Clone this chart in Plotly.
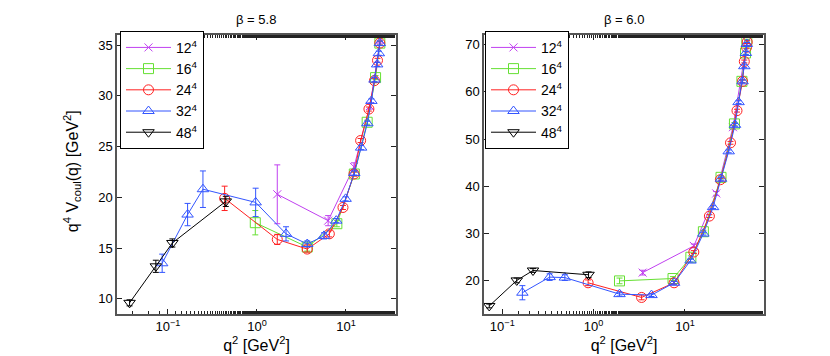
import plotly.graph_objects as go

# beta = 5.8 (left panel)
l12_x = [1.69, 6.3, 12.3, 18.6, 24.3]
l12_y = [20.3, 17.7, 23.0, 29.0, 35.5]
l12_e = [2.9, 0.5, 0.4, 0.3, 0.3]

l16_x = [0.957, 3.67, 7.9, 12.4, 17.3, 21.5, 24.0]
l16_y = [17.5, 15.1, 17.4, 22.3, 27.4, 31.8, 35.2]
l16_e = [1.2, 0.4, 0.3, 0.2, 0.2, 0.2, 0.2]

l24_x = [0.433, 1.69, 3.67, 6.5, 9.25, 12.3, 14.6, 18.1, 20.9, 22.6, 24.0]
l24_y = [19.9, 15.85, 14.9, 16.4, 19.0, 22.3, 25.6, 28.7, 31.5, 33.5, 35.2]
l24_e = [1.2, 0.5, 0.3, 0.3, 0.2, 0.2, 0.2, 0.2, 0.2, 0.2, 0.2]

l32_x = [0.086, 0.166, 0.247, 0.966, 2.12, 3.67, 5.66, 7.77, 9.9, 12.4, 14.8,
         17.4, 19.3, 20.9, 22.4, 23.4, 24.0]
l32_y = [13.5, 18.3, 20.8, 19.5, 16.4, 15.4, 16.2, 17.7, 19.85, 22.4, 24.9,
         27.3, 29.5, 31.6, 33.1, 34.2, 35.2]
l32_e = [0.9, 1.1, 1.8, 1.4, 0.7, 0.3, 0.3, 0.2, 0.2, 0.2, 0.2,
         0.2, 0.2, 0.2, 0.2, 0.2, 0.2]

l48_x = [0.037, 0.073, 0.112, 0.446]
l48_y = [9.6, 13.2, 15.5, 19.6]
l48_e = [0.3, 0.6, 0.4, 0.5]

# beta = 6.0 (right panel)
r12_x = [3.44, 12.5, 22.0, 33.5, 47.8]
r12_y = [21.75, 27.4, 38.5, 52.5, 70.6]
r12_e = [0.5, 0.4, 0.4, 0.4, 0.4]

r16_x = [1.92, 7.4, 11.6, 15.9, 24.8, 34.8, 42.0, 46.0, 47.5]
r16_y = [20.0, 20.5, 25.0, 30.4, 41.9, 53.2, 62.2, 68.2, 70.8]
r16_e = [0.6, 0.4, 0.3, 0.3, 0.3, 0.3, 0.3, 0.3, 0.3]

r24_x = [0.87, 3.35, 7.6, 12.5, 18.5, 24.4, 31.5, 37.1, 42.7, 44.6, 47.2, 48.0]
r24_y = [19.6, 16.5, 19.6, 26.1, 33.7, 41.4, 49.2, 56.0, 62.2, 66.4, 69.4, 70.5]
r24_e = [0.6, 0.5, 0.3, 0.3, 0.3, 0.3, 0.3, 0.3, 0.3, 0.3, 0.3, 0.3]

r32_x = [0.166, 0.33, 0.484, 1.92, 4.3, 7.6, 11.5, 15.9, 20.3, 24.8, 30.1,
         35.3, 38.6, 42.7, 44.6, 46.4, 47.5]
r32_y = [17.5, 20.8, 20.7, 17.2, 17.0, 19.6, 24.3, 30.0, 35.6, 41.6, 47.4,
         53.0, 57.8, 62.2, 65.4, 68.2, 70.1]
r32_e = [1.5, 0.7, 0.6, 0.4, 0.3, 0.3, 0.3, 0.3, 0.3, 0.3, 0.3,
         0.3, 0.3, 0.3, 0.3, 0.3, 0.3]

r48_x = [0.072, 0.144, 0.217, 0.88]
r48_y = [14.7, 20.1, 22.2, 21.3]
r48_e = [0.4, 0.5, 0.4, 0.6]

labels = ["12<sup>4</sup>", "16<sup>4</sup>", "24<sup>4</sup>", "32<sup>4</sup>", "48<sup>4</sup>"]
colors = ["#C040F0", "#66E033", "#FF2020", "#3355FF", "#000000"]
symbols = ["x-thin-open", "square-open", "circle-open", "triangle-up-open", "triangle-down-open"]

left = [(l12_x, l12_y, l12_e), (l16_x, l16_y, l16_e), (l24_x, l24_y, l24_e),
        (l32_x, l32_y, l32_e), (l48_x, l48_y, l48_e)]
right = [(r12_x, r12_y, r12_e), (r16_x, r16_y, r16_e), (r24_x, r24_y, r24_e),
         (r32_x, r32_y, r32_e), (r48_x, r48_y, r48_e)]

FONT = "Liberation Sans, Arial, sans-serif"
NARROW = "Liberation Sans Narrow, Liberation Sans, Arial, sans-serif"

fig = go.Figure()
for data, xa, ya, leg in [(left, "x", "y", "legend"), (right, "x2", "y2", "legend2")]:
    for i, (xs, ys, es) in enumerate(data):
        fig.add_trace(go.Scatter(
            x=xs, y=ys, mode="lines+markers", name=labels[i],
            xaxis=xa, yaxis=ya, legend=leg,
            line=dict(color=colors[i], width=1),
            marker=dict(symbol=symbols[i], size=10 if i != 0 else 8,
                        color=colors[i], line=dict(color=colors[i], width=1)),
            error_y=dict(type="data", array=es, color=colors[i], thickness=1, width=3),
        ))

axis_common = dict(
    showline=True, linecolor="#555", linewidth=1.5, mirror="ticks",
    ticks="inside", ticklen=5, tickcolor="#222", showgrid=False, zeroline=False,
    tickfont=dict(family=FONT, size=13, color="#000"),
)
xticks = dict(type="log", tickvals=[0.1, 1, 10],
              ticktext=["10<sup>−1</sup>", "10<sup>0</sup>", "10<sup>1</sup>"],
              tickfont=dict(family=NARROW, size=13, color="#000"),
              minor=dict(ticks="inside", ticklen=3, tickcolor="#222", showgrid=False),
              title=dict(text="q<sup>2</sup> [GeV<sup>2</sup>]", font=dict(family=FONT, size=16), standoff=4))
xcommon = {k: v for k, v in axis_common.items() if k != "tickfont"}

legend_style = dict(xanchor="left", yanchor="top", bordercolor="#000", borderwidth=1,
                    bgcolor="white", font=dict(family=FONT, size=14), itemwidth=45, tracegroupgap=0)

fig.update_layout(
    width=830, height=356,
    margin=dict(l=0, r=0, t=27, b=50),
    plot_bgcolor="white", paper_bgcolor="white",
    font=dict(family=FONT, color="#000"),
    showlegend=True,
    xaxis=dict(domain=[109 / 830, 388 / 830], range=[-1.573, 1.562], anchor="y", **xticks, **xcommon),
    yaxis=dict(range=[8.5, 36], tickvals=[10, 15, 20, 25, 30, 35], anchor="x", **axis_common),
    xaxis2=dict(domain=[476 / 830, 756 / 830], range=[-1.2, 1.865], anchor="y2", **xticks, **xcommon),
    yaxis2=dict(range=[13, 72], tickvals=[20, 30, 40, 50, 60, 70], anchor="x2", **axis_common),
    legend=dict(x=112 / 830, y=1.015, **legend_style),
    legend2=dict(x=477 / 830, y=1.015, **legend_style),
    annotations=[
        dict(text="β = 5.8", x=248 / 830, y=1, xref="paper", yref="paper", xanchor="center",
             yanchor="bottom", yshift=6, showarrow=False, font=dict(family=NARROW, size=13)),
        dict(text="β = 6.0", x=616 / 830, y=1, xref="paper", yref="paper", xanchor="center",
             yanchor="bottom", yshift=6, showarrow=False, font=dict(family=NARROW, size=13)),
        dict(text="q<sup>4</sup> V<sub>coul</sub>(q) [GeV<sup>2</sup>]", x=64 / 830, y=0.512,
             xref="paper", yref="paper", xanchor="center", yanchor="middle", textangle=-90,
             showarrow=False, font=dict(family=FONT, size=16)),
    ],
)

fig.write_html("out.html")
